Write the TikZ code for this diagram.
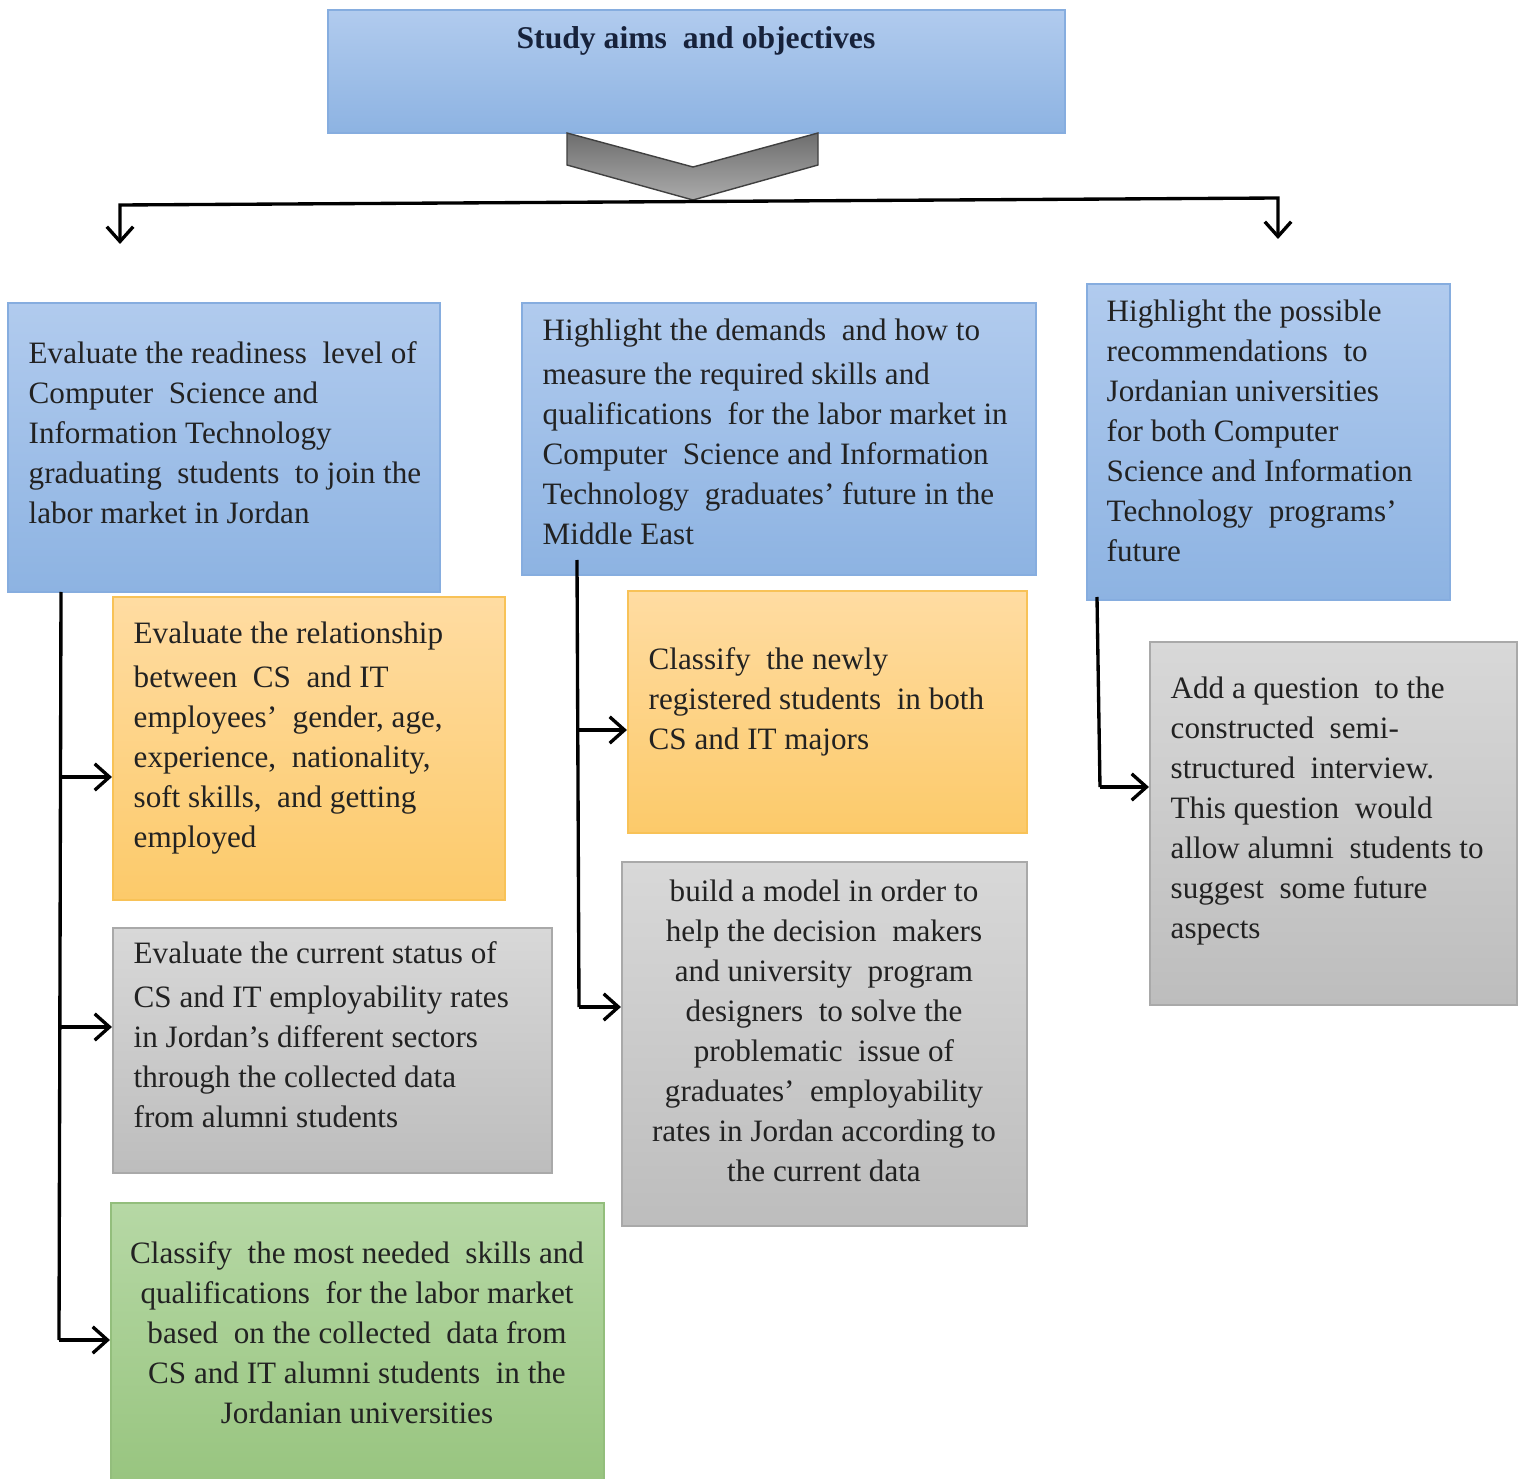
\documentclass[tikz,border=0pt]{standalone}
\usepackage{fontspec}
\setmainfont{Liberation Serif}
\usetikzlibrary{arrows.meta}

\definecolor{blueT}{HTML}{B1CBEE}
\definecolor{blueB}{HTML}{8DB3E2}
\definecolor{blueE}{HTML}{86ADDF}
\definecolor{orangeT}{HTML}{FFDCA2}
\definecolor{orangeB}{HTML}{FCCA6A}
\definecolor{orangeE}{HTML}{F8C257}
\definecolor{grayT}{HTML}{D8D8D8}
\definecolor{grayB}{HTML}{BDBDBD}
\definecolor{grayE}{HTML}{A9A9A9}
\definecolor{greenT}{HTML}{B6D8A5}
\definecolor{greenB}{HTML}{97C47E}
\definecolor{greenE}{HTML}{93BE7C}
\definecolor{chevT}{HTML}{6E6E6E}
\definecolor{chevB}{HTML}{ABABAB}
\definecolor{ink}{HTML}{222222}
\definecolor{navy}{HTML}{17223B}

\tikzset{
  dims/.style 2 args={minimum width=#1*0.01cm, minimum height=#2*0.01cm},
  panel/.style={rectangle, inner sep=0pt, line width=0.6pt},
  bluebox/.style={panel, draw=blueE, top color=blueT, bottom color=blueB},
  orangebox/.style={panel, draw=orangeE, top color=orangeT, bottom color=orangeB},
  graybox/.style={panel, draw=grayE, top color=grayT, bottom color=grayB},
  greenbox/.style={panel, draw=greenE, top color=greenT, bottom color=greenB},
  txt/.style={inner sep=0pt, align=left, anchor=north west, text=ink,
              font=\fontsize{8.85}{11.38}\selectfont},
  ctxt/.style={txt, align=center, anchor=north},
  conn/.style={line width=0.95pt, draw=black},
  arr/.style={conn, -{Straight Barb[length=4.2pt, width=7.5pt, line width=0.95pt]}},
  twoarr/.style={conn, {Straight Barb[length=4.2pt, width=7.5pt, line width=0.95pt]}-{Straight Barb[length=4.2pt, width=7.5pt, line width=0.95pt]}}
}

\begin{document}
\begin{tikzpicture}[x=0.01cm, y=-0.01cm]
\useasboundingbox (0,0) rectangle (1523,1479);
\fill[white] (0,0) rectangle (1523,1479);
\clip (0,0) rectangle (1523,1479);

% heading panel and the chevron below it
\node[bluebox, dims={737}{123}] (top) at (696.5,71.5) {};
\node[inner sep=0pt, text=navy, font=\bfseries\fontsize{9}{11}\selectfont] (title) at (696,41) {Study aims\ \ and objectives};
\path[draw=black!75, line width=0.4pt, top color=chevT, bottom color=chevB]
  (567,133) -- (693,167) -- (818,133) -- (818,165) -- (693,200) -- (567,165) -- cycle;

% splitter line with its two downward arrows
\coordinate (hl) at (120,205);
\coordinate (hr) at (1278,198);
\coordinate (la) at (120,244);
\coordinate (ra) at (1278,239);
\draw[twoarr] (la) -- (hl) -- (hr) -- (ra);

% first row: the three aims
\node[bluebox, dims={432}{289}] (A) at (224,447.5) {};
\node[txt] (At) at (28,341) {Evaluate the readiness\ \ level of\\Computer\ \ Science and\\Information Technology\\graduating\ \ students\ \ to join the\\labor market in Jordan};

\node[bluebox, dims={514}{272}] (B) at (779,439) {};
\node[txt] (Bt) at (542,318) {Highlight the demands\ \ and how to\\[1.2pt]measure the required skills and\\qualifications\ \ for the labor market in\\Computer\ \ Science and Information\\Technology\ \ graduates’ future in the\\Middle East};

\node[bluebox, dims={363}{316}] (C) at (1268.5,442) {};
\node[txt] (Ct) at (1106,299) {Highlight the possible\\recommendations\ \ to\\Jordanian universities\\for both Computer\\Science and Information\\Technology\ \ programs’\\future};

% objectives under the first aim
\node[orangebox, dims={392}{303}] (D) at (309,748.5) {};
\node[txt] (Dt) at (133,621) {Evaluate the relationship\\[1.2pt]between\ \ CS\ \ and IT\\employees’\ \ gender, age,\\experience,\ \ nationality,\\soft skills,\ \ and getting\\employed};

\node[graybox, dims={439}{245}] (E) at (332.5,1050.5) {};
\node[txt] (Et) at (133,941) {Evaluate the current status of\\[1.2pt]CS and IT employability rates\\in Jordan’s different sectors\\through the collected data\\from alumni students};

\node[greenbox, dims={493}{290}] (F) at (357.5,1348) {};
\node[ctxt] (Ft) at (357,1241) {Classify\ \ the most needed\ \ skills and\\qualifications\ \ for the labor market\\based\ \ on the collected\ \ data from\\CS and IT alumni students\ \ in the\\Jordanian universities};

% objectives under the second aim
\node[orangebox, dims={399}{242}] (G) at (827.5,712) {};
\node[txt] (Gt) at (648,647) {Classify\ \ the newly\\registered students\ \ in both\\CS and IT majors};

\node[graybox, dims={405}{364}] (H) at (824.5,1044) {};
\node[ctxt] (Ht) at (824,879) {build a model in order to\\help the decision\ \ makers\\and university\ \ program\\designers\ \ to solve the\\problematic\ \ issue of\\graduates’\ \ employability\\rates in Jordan according to\\the current data};

% objective under the third aim
\node[graybox, dims={367}{363}] (I) at (1333.5,823.5) {};
\node[txt] (It) at (1170,676) {Add a question\ \ to the\\constructed\ \ semi-\\structured\ \ interview.\\This question\ \ would\\allow alumni\ \ students to\\suggest\ \ some future\\aspects};

% trunk from the first aim
\coordinate (l0) at (61,592);
\coordinate (l3) at (59,1340);
\coordinate (l1) at (60.5,777);
\coordinate (l2) at (60,1027);
\draw[conn] (l0) -- (l3);
\draw[arr] (l1) -- (l1 -| D.west);
\draw[arr] (l2) -- (l2 -| E.west);
\draw[arr] (l3) -- (l3 -| F.west);

% trunk from the second aim
\coordinate (m0) at (577,560);
\coordinate (m1) at (578,730);
\coordinate (m2) at (579,1007);
\draw[conn] (m0) -- (m2);
\draw[arr] (m1) -- (m1 -| G.west);
\draw[arr] (m2) -- (m2 -| H.west);

% trunk from the third aim
\coordinate (r0) at (1097,597);
\coordinate (r1) at (1100,787);
\draw[conn] (r0) -- (r1);
\draw[arr] (r1) -- (r1 -| I.west);
\end{tikzpicture}
\end{document}
